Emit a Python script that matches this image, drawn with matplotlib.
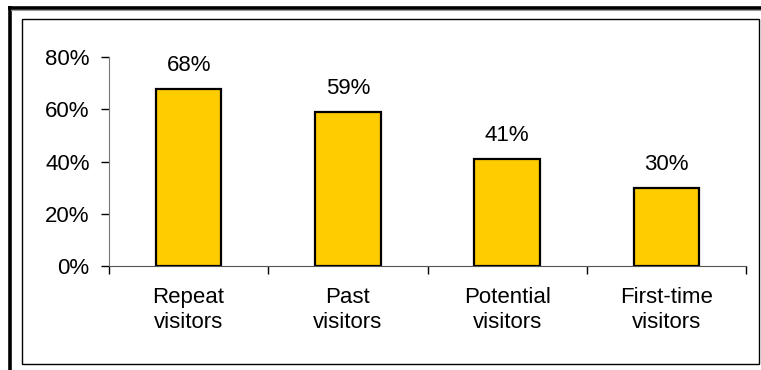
import matplotlib.pyplot as plt
from matplotlib.lines import Line2D
from matplotlib.patches import Rectangle
import numpy as np

plt.rcParams['font.family'] = ['Liberation Sans', 'DejaVu Sans']

categories = ["Repeat\nvisitors", "Past\nvisitors", "Potential\nvisitors", "First-time\nvisitors"]
shares = [68, 59, 41, 30]
ytick_vals = [0, 20, 40, 60, 80]

W, H = 761, 370
FS = 16
fig = plt.figure(figsize=(W / 100, H / 100), dpi=100)

# page frame: heavy rule top and left, thin box inside
fig.add_artist(Line2D([8 / W, 1], [1 - 7.5 / H, 1 - 7.5 / H], color="black", lw=2.6,
                      transform=fig.transFigure, solid_capstyle="butt"))
fig.add_artist(Line2D([9.5 / W, 9.5 / W], [0, 1 - 6 / H], color="black", lw=2.6,
                      transform=fig.transFigure, solid_capstyle="butt"))
fig.add_artist(Line2D([11 / W, 1], [1 - 10 / H, 1 - 10 / H], color="#999999", lw=0.8,
                      transform=fig.transFigure))
fig.add_artist(Rectangle((21.5 / W, 6 / H), (758.5 - 21.5) / W, 345 / H,
                         fill=False, ec="black", lw=1.0, transform=fig.transFigure))

ax = fig.add_axes([109 / W, (H - 265.7) / H, (746 - 109) / W, (265.7 - 57.3) / H])
x = np.arange(len(categories))
ax.bar(x, shares, width=0.41, color="#FFCC00", edgecolor="black", linewidth=1.6, zorder=3)
for xi, v in zip(x, shares):
    ax.text(xi, v + 5, f"{v}%", ha="center", va="bottom", fontsize=FS)

ax.set_xlim(-0.5, len(categories) - 0.5)
ax.set_ylim(0, 80)
ax.set_yticks(ytick_vals)
ax.set_yticklabels([f"{v}%" for v in ytick_vals])

# ticks between categories, labels centred under bars
ax.set_xticks(np.arange(-0.5, len(categories), 1.0))
ax.set_xticklabels([])
ax.set_xticks(x, minor=True)
ax.set_xticklabels(categories, minor=True, linespacing=1.25)
ax.tick_params(axis="x", which="minor", length=0, pad=15, labelsize=FS)
ax.tick_params(axis="x", which="major", length=6, width=1, direction="out")
ax.tick_params(axis="y", length=6, width=1, direction="out", pad=8, labelsize=FS)

for s in ("top", "right"):
    ax.spines[s].set_visible(False)
ax.spines["left"].set_color("#777777")
ax.spines["bottom"].set_color("#555555")

fig.savefig("out.png", dpi=100)
